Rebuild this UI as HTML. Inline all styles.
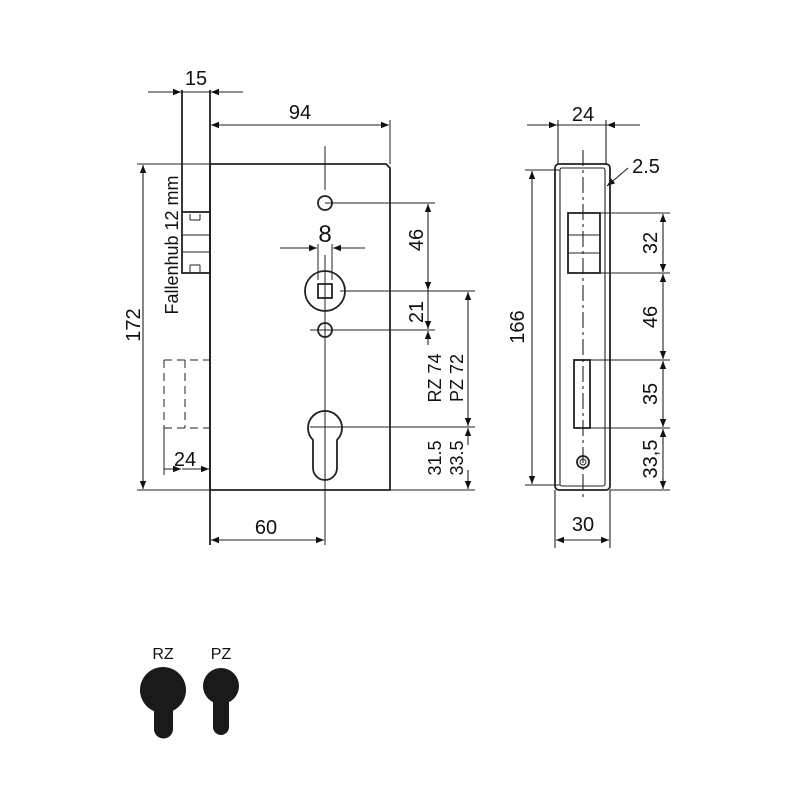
<!DOCTYPE html>
<html><head><meta charset="utf-8"><style>html,body{margin:0;background:#fff}</style></head><body>
<svg width="800" height="800" viewBox="0 0 800 800" xmlns="http://www.w3.org/2000/svg" font-family="Liberation Sans, sans-serif" fill="none" stroke="#222">
<defs>
<marker id="a" viewBox="0 0 10 10" refX="10" refY="5" markerWidth="16" markerHeight="8" markerUnits="userSpaceOnUse" orient="auto-start-reverse"><path d="M0,1 L10,5 L0,9z" fill="#111" stroke="none"/></marker>
</defs>
<g stroke-width="1.8">
<path d="M210,164 H386 L390,168 V490 H210 Z"/>
<line x1="182" y1="90" x2="182" y2="212"/>
<line x1="210" y1="90" x2="210" y2="545"/>
<rect x="182" y="212" width="28" height="61"/>
</g>
<g stroke-width="1">
<line x1="190" y1="214" x2="190" y2="220"/><line x1="200" y1="214" x2="200" y2="220"/><line x1="190" y1="220" x2="200" y2="220"/>
<line x1="182" y1="235" x2="210" y2="235"/><line x1="182" y1="252" x2="210" y2="252"/>
<line x1="190" y1="265" x2="200" y2="265"/><line x1="190" y1="265" x2="190" y2="273"/><line x1="200" y1="265" x2="200" y2="273"/>
<path d="M164,360 H210 M164,428 H210 M164,360 V428 M185,360 V428" stroke-dasharray="8,5"/>
<line x1="164" y1="428" x2="164" y2="475"/>
<line x1="137" y1="164" x2="210" y2="164"/><line x1="137" y1="490" x2="210" y2="490"/>
<line x1="390" y1="120" x2="390" y2="164"/>
<line x1="325" y1="146" x2="325" y2="190"/>
<line x1="325" y1="255" x2="325" y2="545"/>
<line x1="325" y1="203" x2="435" y2="203"/>
<line x1="340" y1="291" x2="475" y2="291"/>
<line x1="310" y1="330" x2="435" y2="330"/>
<line x1="310" y1="427" x2="475" y2="427"/>
<line x1="390" y1="490" x2="475" y2="490"/>
<line x1="318" y1="244" x2="318" y2="280"/><line x1="332" y1="244" x2="332" y2="280"/>
</g>
<g stroke-width="1.8">
<circle cx="325" cy="203" r="7"/><circle cx="325" cy="330" r="7"/>
<circle cx="325" cy="291" r="20"/><rect x="318" y="284" width="14" height="14"/>
<path d="M313,440 A17,17 0 1 1 337,440 V468 A12,12 0 0 1 313,468 Z"/>
</g>
<g stroke-width="1.1" marker-end="url(#a)" marker-start="url(#a)">
<line x1="143" y1="165" x2="143" y2="489"/>
<line x1="211" y1="125" x2="389" y2="125"/>
<line x1="428" y1="204" x2="428" y2="290"/>
<line x1="211" y1="540" x2="324" y2="540"/>
<line x1="532" y1="171" x2="532" y2="484"/>
<line x1="556" y1="540" x2="609" y2="540"/>
<line x1="663" y1="214" x2="663" y2="272"/>
<line x1="663" y1="274" x2="663" y2="359"/>
<line x1="663" y1="361" x2="663" y2="427"/>
<line x1="663" y1="429" x2="663" y2="489"/>
<line x1="468" y1="292" x2="468" y2="426"/>
</g>
<g stroke-width="1.1">
<line x1="148" y1="92" x2="181" y2="92" marker-end="url(#a)"/><line x1="243" y1="92" x2="211" y2="92" marker-end="url(#a)"/><line x1="181" y1="92" x2="211" y2="92"/>
<line x1="280" y1="248" x2="317" y2="248" marker-end="url(#a)"/><line x1="365" y1="248" x2="333" y2="248" marker-end="url(#a)"/>
<line x1="428" y1="290" x2="428" y2="329" marker-end="url(#a)"/><line x1="428" y1="345" x2="428" y2="331" marker-end="url(#a)"/>
<line x1="468" y1="445" x2="468" y2="428" marker-end="url(#a)"/><line x1="468" y1="470" x2="468" y2="489" marker-end="url(#a)"/>
<line x1="164" y1="469" x2="181" y2="469" marker-end="url(#a)"/><line x1="182" y1="469" x2="209" y2="469" marker-end="url(#a)"/>
<line x1="527" y1="125" x2="557" y2="125" marker-end="url(#a)"/><line x1="640" y1="125" x2="607" y2="125" marker-end="url(#a)"/><line x1="557" y1="125" x2="607" y2="125"/>
<line x1="628" y1="168" x2="607" y2="186" marker-end="url(#a)"/>
<line x1="558" y1="120" x2="558" y2="165"/><line x1="606" y1="120" x2="606" y2="165"/>
<line x1="525" y1="170" x2="560" y2="170"/><line x1="525" y1="485" x2="560" y2="485"/>
<line x1="600" y1="213" x2="670" y2="213"/><line x1="600" y1="273" x2="670" y2="273"/>
<line x1="590" y1="360" x2="670" y2="360"/><line x1="590" y1="428" x2="670" y2="428"/>
<line x1="610" y1="490" x2="670" y2="490"/>
<line x1="555" y1="490" x2="555" y2="548"/><line x1="610" y1="490" x2="610" y2="548"/>
<line x1="583" y1="150" x2="583" y2="500" stroke-dasharray="16,4,3,4"/>
</g>
<g stroke-width="1.8">
<rect x="555" y="164" width="55" height="326" rx="4"/>
<rect x="560" y="168" width="45" height="318" rx="2" stroke-width="1.1"/>
<rect x="568" y="213" width="32" height="60"/>
<line x1="568" y1="235" x2="600" y2="235" stroke-width="1"/><line x1="568" y1="253" x2="600" y2="253" stroke-width="1"/>
<rect x="574" y="360" width="16" height="68"/>
<circle cx="583" cy="462" r="6"/><circle cx="583" cy="462" r="3" stroke-width="1"/>
</g>
<g fill="#111" stroke="none" font-size="20" text-anchor="middle">
<text x="196" y="85">15</text>
<text x="300" y="119">94</text>
<text x="325" y="242" font-size="24">8</text>
<text x="185" y="466">24</text>
<text x="266" y="534">60</text>
<text x="583" y="121">24</text>
<text x="646" y="173">2.5</text>
<text x="583" y="531">30</text>
<text transform="translate(140,325) rotate(-90)">172</text>
<text transform="translate(178,245) rotate(-90)" font-size="18">Fallenhub 12 mm</text>
<text transform="translate(423,240) rotate(-90)">46</text>
<text transform="translate(423,312) rotate(-90)">21</text>
<text transform="translate(441,378) rotate(-90)" font-size="18">RZ 74</text>
<text transform="translate(463,378) rotate(-90)" font-size="18">PZ 72</text>
<text transform="translate(441,458) rotate(-90)" font-size="18">31.5</text>
<text transform="translate(463,458) rotate(-90)" font-size="18">33.5</text>
<text transform="translate(524,327) rotate(-90)">166</text>
<text transform="translate(657,243) rotate(-90)">32</text>
<text transform="translate(657,317) rotate(-90)">46</text>
<text transform="translate(657,394) rotate(-90)">35</text>
<text transform="translate(657,459) rotate(-90)">33,5</text>
<text x="163" y="659" font-size="16">RZ</text>
<text x="221" y="659" font-size="16">PZ</text>
</g>
<g fill="#1a1a1a" stroke="none">
<circle cx="163" cy="690" r="23"/><rect x="154" y="690" width="19" height="40"/><circle cx="163.5" cy="729" r="9.5"/>
<circle cx="221" cy="686" r="18"/><rect x="213" y="686" width="16" height="42"/><circle cx="221" cy="727" r="8"/>
</g>
</svg>
</body></html>
